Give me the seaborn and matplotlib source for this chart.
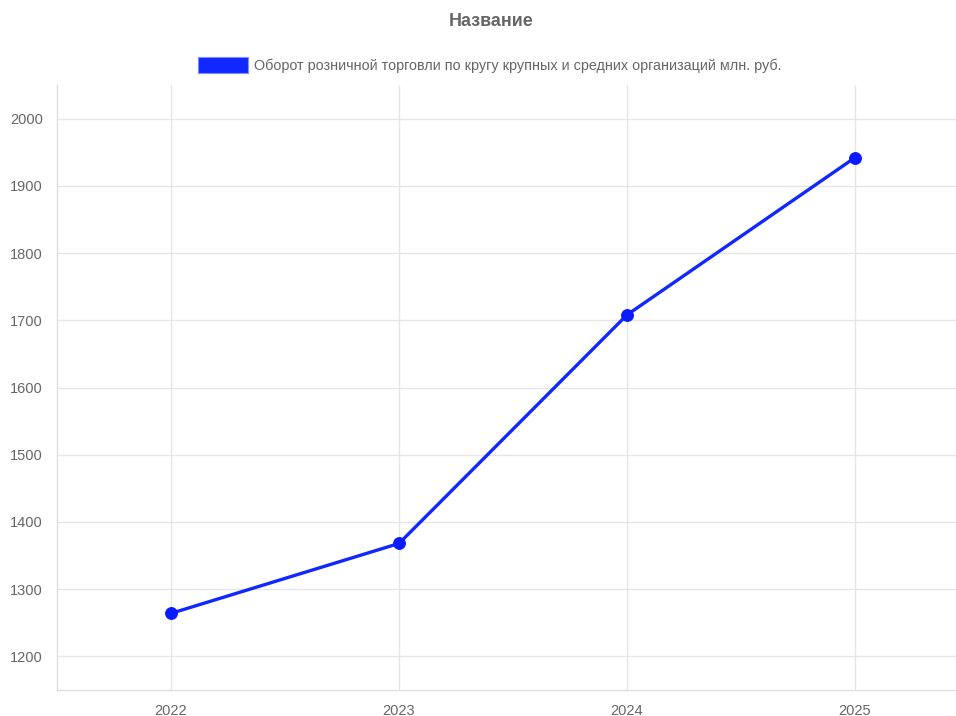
import matplotlib
matplotlib.use("Agg")
import matplotlib.pyplot as plt
from matplotlib.patches import Patch
import seaborn as sns
import pandas as pd

years = ["2022", "2023", "2024", "2025"]
values = [1264, 1368, 1708, 1942]
series_name = "Оборот розничной торговли по кругу крупных и средних организаций млн. руб."
title = "Название"
y_ticks = [1200, 1300, 1400, 1500, 1600, 1700, 1800, 1900, 2000]

sns.set_theme(style="white")
plt.rcParams['font.family'] = ['Liberation Sans', 'DejaVu Sans']

W, H = 956, 716
fig = plt.figure(figsize=(W / 100, H / 100), dpi=100)
left, right, top, bottom = 57, 969, 85, 690
ax = fig.add_axes([left / W, 1 - bottom / H, (right - left) / W, (bottom - top) / H])

df = pd.DataFrame({"year": years, "value": values})
line_color = "#1028ff"
sns.lineplot(data=df, x="year", y="value", ax=ax, color=line_color, linewidth=2.4,
             marker="o", markersize=8.5, markerfacecolor="#0a1cff",
             markeredgecolor="#0a1cff", sort=False)

ax.set_xlim(-0.5, 3.5)
ax.set_ylim(1150, 2050)
ax.set_yticks(y_ticks)
ax.set_xticks(range(len(years)))
ax.set_xticklabels(years)
ax.set_xlabel("")
ax.set_ylabel("")

grid_c = "#e6e6e6"
ax.grid(True, color=grid_c, linewidth=1)
ax.set_axisbelow(True)
for s in ["top", "right"]:
    ax.spines[s].set_visible(False)
for s in ["left", "bottom"]:
    ax.spines[s].set_color("#dedede")
    ax.spines[s].set_linewidth(1)

ax.tick_params(axis="both", which="both", length=8, width=1, color=grid_c,
               labelcolor="#666666", labelsize=10.5, pad=2)
ax.tick_params(axis="x", pad=2)

fig.text(491 / W, 1 - 21 / H, title, ha="center", va="center",
         fontsize=12.9, fontweight="bold", color="#666666")

handle = Patch(facecolor="#1028ff", edgecolor="#7f8cff", linewidth=0.8)
fig.legend([handle], [series_name], loc="center", bbox_to_anchor=(490 / W, 1 - 65 / H),
           frameon=False, fontsize=10.4, handlelength=3.45, handleheight=1.35,
           handletextpad=0.4, labelcolor="#666666")

fig.savefig("out.png", dpi=100)
